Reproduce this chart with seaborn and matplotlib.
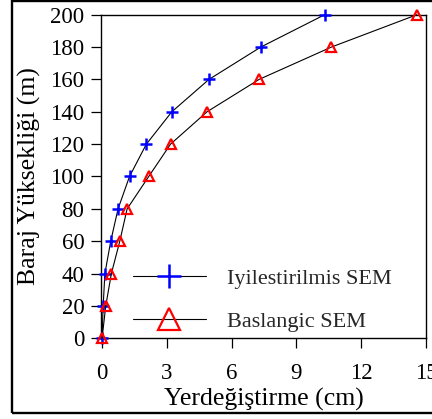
import numpy as np
import pandas as pd
import matplotlib
matplotlib.use("Agg")
import matplotlib.pyplot as plt
from matplotlib.patches import Rectangle
import seaborn as sns

# Data
heights = [0, 20, 40, 60, 80, 100, 120, 140, 160, 180, 200]
disp_improved = [0.0, 0.05, 0.13, 0.40, 0.74, 1.27, 2.05, 3.23, 4.95, 7.35, 10.31]
disp_initial = [0.0, 0.17, 0.43, 0.82, 1.16, 2.16, 3.17, 4.86, 7.27, 10.62, 14.58]
label_improved = "Iyilestirilmis SEM"
label_initial = "Baslangic SEM"
x_ticks = [0, 3, 6, 9, 12, 15]
y_ticks = [0, 20, 40, 60, 80, 100, 120, 140, 160, 180, 200]
x_label = "Yerdeğiştirme (cm)"
y_label = "Baraj Yüksekliği (m)"

sns.set_style("ticks")
plt.rcParams["font.family"] = ["Liberation Serif", "DejaVu Serif"]

W, H = 432, 419
fig = plt.figure(figsize=(W / 100, H / 100), dpi=100)
ax = fig.add_axes([101 / W, (H - 338.3) / H, (426 - 101) / W, (338.3 - 14.7) / H])

df1 = pd.DataFrame({"x": disp_improved, "y": heights})
df2 = pd.DataFrame({"x": disp_initial, "y": heights})

sns.lineplot(data=df1, x="x", y="y", orient="y", ax=ax, color="black", lw=0.8,
             marker="+", ms=8.5, mew=1.8, mec="#0000ff", label=label_improved,
             clip_on=False, zorder=3)
sns.lineplot(data=df2, x="x", y="y", orient="y", ax=ax, color="black", lw=0.8,
             marker="^", ms=7.8, mew=1.6, mec="#ff0000", mfc="none", label=label_initial,
             clip_on=False, zorder=3)

ax.set_xlim(-0.05, 15)
ax.set_ylim(0, 200)
ax.set_xticks(x_ticks)
ax.set_yticks(y_ticks)
ax.tick_params(axis="both", direction="out", length=7.5, width=0.9, labelsize=16.5,
               color="black", labelcolor="black")
ax.tick_params(axis="x", pad=10.5)
ax.tick_params(axis="y", pad=4.5)
for s in ax.spines.values():
    s.set_visible(True)
    s.set_linewidth(1.0)
    s.set_color("black")

ax.set_xlabel(x_label, fontsize=18.5, labelpad=2.5, color="black")
ax.set_ylabel(y_label, fontsize=18.5, labelpad=6.5, color="black")

leg = ax.legend(loc="center left", bbox_to_anchor=(0.063, 0.118), frameon=False,
                fontsize=16, markerscale=2.1, handlelength=3.3, handletextpad=0.95,
                borderpad=0, labelspacing=1.0, numpoints=1)

fig.add_artist(Rectangle((12.2 / W, 6.2 / H), 1.0, 411.6 / H, transform=fig.transFigure,
                         fill=False, lw=1.7, ec="black", clip_on=False))

fig.savefig("out.png", dpi=100)
